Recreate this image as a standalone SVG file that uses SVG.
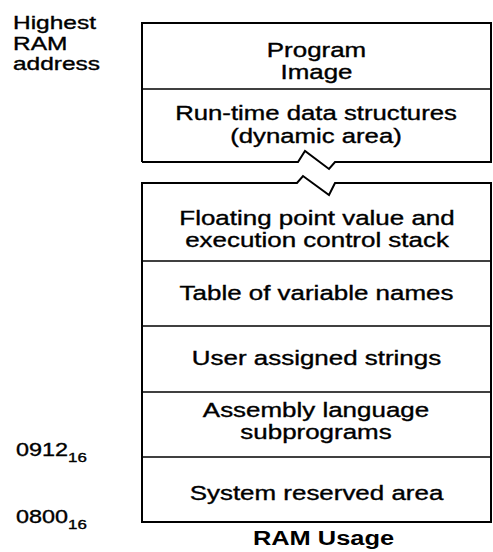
<svg xmlns="http://www.w3.org/2000/svg" width="493" height="552" viewBox="0 0 493 552">
<style>
  .line { fill: none; stroke: #000; stroke-width: 2; stroke-linejoin: miter; }
  .div { fill: none; stroke: #000; stroke-width: 1.6; }
  .t { font-family: "Liberation Sans", Arial, sans-serif; font-size: 19.5px; fill: #000; stroke: #000; stroke-width: 0.35px; text-anchor: middle; }
  .lbl { font-family: "Liberation Sans", Arial, sans-serif; font-size: 18px; fill: #000; stroke: #000; stroke-width: 0.35px; }
  .sub { font-size: 13px; }
  .cap { font-family: "Liberation Sans", Arial, sans-serif; font-size: 20px; font-weight: bold; fill: #000; text-anchor: middle; }
</style>
<rect width="493" height="552" fill="#fff"/>

<g id="connectors">
  <path class="line" d="M142,162 L142,23 L491,23 L491,162 L335,162 L329,169 L305,151 L298,162 L142,162"/>
  <path class="line" d="M142,183 L297,183 L303,176 L329,195 L335,183 L491,183 L491,522 L142,522 Z"/>
</g>

<g id="labels-left">
  <text class="lbl" transform="translate(13,29) scale(1.36,1)">Highest</text>
  <text class="lbl" transform="translate(13,49.5) scale(1.36,1)">RAM</text>
  <text class="lbl" transform="translate(13,70) scale(1.36,1)">address</text>
  <text class="lbl" transform="translate(16,456) scale(1.3,1)">0912<tspan class="sub" dy="6">16</tspan></text>
  <text class="lbl" transform="translate(16,523) scale(1.3,1)">0800<tspan class="sub" dy="6">16</tspan></text>
</g>

<g id="node-program-image">
  <text class="t" transform="translate(316.5,57) scale(1.33,1)">Program</text>
  <text class="t" transform="translate(316.5,79) scale(1.33,1)">Image</text>
</g>
<g id="node-runtime">
  <line class="div" x1="142" y1="89" x2="491" y2="89"/>
  <text class="t" transform="translate(316,120) scale(1.32,1)">Run-time data structures</text>
  <text class="t" transform="translate(316,143) scale(1.32,1)">(dynamic area)</text>
</g>
<g id="node-floating">
  <text class="t" transform="translate(317,225) scale(1.33,1)">Floating point value and</text>
  <text class="t" transform="translate(317,247) scale(1.33,1)">execution control stack</text>
</g>
<g id="node-table">
  <line class="div" x1="142" y1="261" x2="491" y2="261"/>
  <text class="t" transform="translate(316.5,300) scale(1.33,1)">Table of variable names</text>
</g>
<g id="node-strings">
  <line class="div" x1="142" y1="326" x2="491" y2="326"/>
  <text class="t" transform="translate(316.5,365) scale(1.33,1)">User assigned strings</text>
</g>
<g id="node-assembly">
  <line class="div" x1="142" y1="392" x2="491" y2="392"/>
  <text class="t" transform="translate(316,417) scale(1.33,1)">Assembly language</text>
  <text class="t" transform="translate(316,439) scale(1.33,1)">subprograms</text>
</g>
<g id="node-system">
  <line class="div" x1="142" y1="457" x2="491" y2="457"/>
  <text class="t" transform="translate(316.5,500) scale(1.33,1)">System reserved area</text>
</g>

<text class="cap" transform="translate(323.5,545) scale(1.27,1)">RAM Usage</text>
</svg>
